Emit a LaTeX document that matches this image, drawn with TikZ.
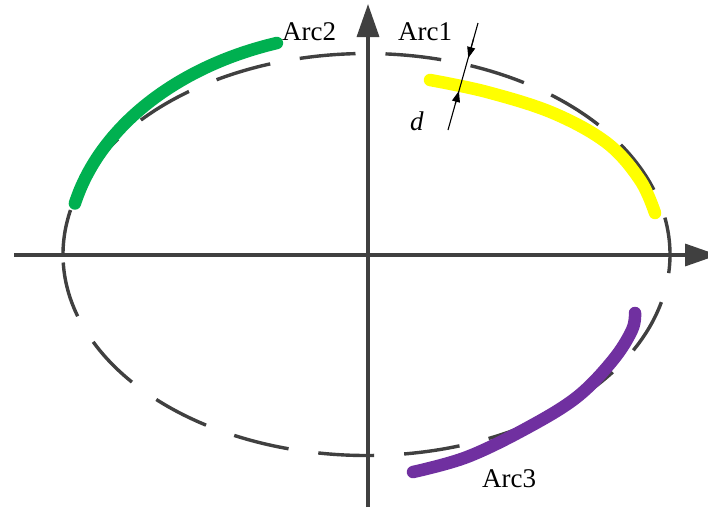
\documentclass[tikz,border=0pt]{standalone}
\usepackage{fontspec}
\setmainfont{Liberation Serif}
\usetikzlibrary{arrows.meta}
\definecolor{axisgray}{HTML}{404040}
\definecolor{arcgreen}{HTML}{00B050}
\definecolor{arcyellow}{HTML}{FFFF00}
\definecolor{arcpurple}{HTML}{7030A0}
\begin{document}
\begin{tikzpicture}[x=1pt,y=-1pt,
  axisline/.style={draw=axisgray, line width=3.4pt, -{Triangle[length=33pt,width=22pt]}},
  ellipseline/.style={draw=axisgray, line width=3.4pt, dash pattern=on 56pt off 30pt, dash phase=78pt},
  arcline/.style={line width=12.5pt, line cap=round},
  dimline/.style={draw=black, line width=1.1pt},
  dimarrow/.style={dimline, -{Triangle[length=11pt,width=8pt]}},
  lbl/.style={inner sep=0pt, font=\fontsize{27}{32}\selectfont, anchor=base west}]
\useasboundingbox (0,0) rectangle (708,507);
\fill[white] (0,0) rectangle (708,507);
% dashed ellipse
\draw[ellipseline] plot[domain=180:540, samples=361] ({366.5+303.5*cos(\x)},{254.5-201*sin(\x)});
% axes
\coordinate (xs) at (14,255);
\coordinate (xe) at (718,255);
\coordinate (ys) at (368,507);
\coordinate (ye) at (368,4);
\draw[axisline] (xs) -- (xe);
\draw[axisline] (ys) -- (ye);
% fitted arcs
\draw[arcline, arcgreen] plot[domain=166.6:107.6, samples=80] ({368+301.3*cos(\x)},{255-222.4*sin(\x)});
\draw[arcline, arcyellow] plot[smooth, tension=0.6] coordinates {(430,80) (487,92) (553,113) (607,143) (640,180) (655,213)};
\draw[arcline, arcpurple] plot[smooth, tension=0.6] coordinates {(413,472) (467,457) (527,428) (577,397) (613,360) (632,330) (635,313)};
% dimension d
\coordinate (d1) at (478,23);
\coordinate (d2) at (448,130);
\coordinate (ua) at (473.5,39);
\coordinate (ut) at (468.3,58);
\coordinate (la) at (455.3,104);
\coordinate (lt) at (458.9,91);
\draw[dimline] (d1) -- (d2);
\draw[dimarrow] (ua) -- (ut);
\draw[dimarrow] (la) -- (lt);
% labels
\node[lbl] (arc1) at (398,40) {Arc1};
\node[lbl] (arc2) at (282,40) {Arc2};
\node[lbl] (arc3) at (482,487) {Arc3};
\node[lbl] (dlbl) at (410,130) {\textit{d}};
\end{tikzpicture}
\end{document}
